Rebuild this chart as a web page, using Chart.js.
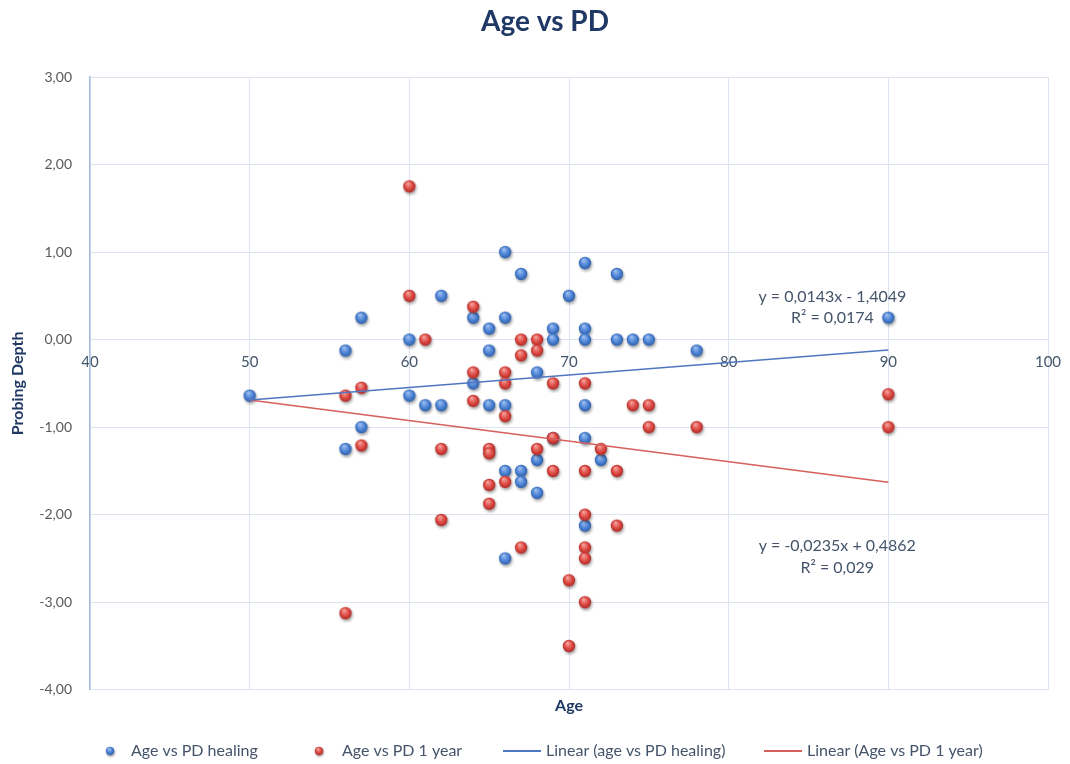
<!DOCTYPE html>
<html>
<head>
<meta charset="utf-8">
<title>Age vs PD</title>
<script src="https://cdn.jsdelivr.net/npm/chart.js@4.4.1/dist/chart.umd.min.js"></script>
<style>
  html, body { margin: 0; padding: 0; background: #ffffff; }
</style>
</head>
<body>
<canvas id="agePdChart" width="1070" height="764"></canvas>
<script>
// Age vs probing depth change, at healing and after 1 year
const healingAge = [50, 56, 56, 57, 57, 60, 60, 61, 62, 62, 64, 64, 65, 65, 65, 66, 66, 66, 66, 66, 67, 67, 67, 68, 68, 68, 69, 69, 69, 70, 71, 71, 71, 71, 71, 71, 72, 73, 73, 74, 75, 78, 90];
const healingPD = [-0.64, -0.125, -1.25, 0.25, -1.0, 0, -0.64, -0.75, 0.5, -0.75, 0.25, -0.5, 0.125, -0.125, -0.75, 1.0, 0.25, -0.75, -1.5, -2.5, 0.75, -1.5, -1.625, -0.375, -1.375, -1.75, 0.125, 0, -1.125, 0.5, 0.875, 0.125, 0, -0.75, -1.125, -2.125, -1.375, 0.75, 0, 0, 0, -0.125, 0.25];

const yearAge = [56, 56, 57, 57, 60, 60, 61, 62, 62, 64, 64, 64, 65, 65, 65, 65, 66, 66, 66, 66, 67, 67, 67, 68, 68, 68, 69, 69, 69, 70, 70, 71, 71, 71, 71, 71, 71, 72, 73, 73, 74, 75, 75, 78, 90, 90];
const yearPD = [-0.64, -3.125, -0.55, -1.21, 1.75, 0.5, 0, -1.25, -2.06, 0.375, -0.375, -0.7, -1.25, -1.3, -1.66, -1.875, -0.375, -0.5, -0.875, -1.625, 0, -0.18, -2.375, 0, -0.125, -1.25, -0.5, -1.125, -1.5, -2.75, -3.5, -0.5, -1.5, -2.0, -2.375, -2.5, -3.0, -1.25, -1.5, -2.125, -0.75, -0.75, -1.0, -1.0, -0.625, -1.0];

// linear trend lines: [slope, intercept], drawn over the age range
const healingFitCoef = [0.0143, -1.4049];
const yearFitCoef = [-0.0235, 0.4862];
const fitRange = [50, 90];
const healingFitText = ['y = 0,0143x - 1,4049', 'R\u00b2 = 0,0174'];
const yearFitText = ['y = -0,0235x + 0,4862', 'R\u00b2 = 0,029'];

const chartTitle = 'Age vs PD';
const seriesLabels = ['Age vs PD healing', 'Age vs PD 1 year', 'Linear (age vs PD healing)', 'Linear (Age vs PD 1 year)'];

const navy = '#1F3864';
const slate = '#44546A';
const gridColor = '#DCE4F2';
const blueLine = '#4F76C0';
const redLine = '#D55F5C';

function toPoints(xs, ys) {
    return xs.map((x, i) => ({ x: x, y: ys[i] }));
}

function fitPoints(coef) {
    return fitRange.map(x => ({ x: x, y: coef[0] * x + coef[1] }));
}

// glossy round marker, drawn once and reused as point style
function makeMarker(light, mid, dark) {
    const c = document.createElement('canvas');
    c.width = 20;
    c.height = 20;
    const g = c.getContext('2d');
    const grad = g.createRadialGradient(8.5, 7, 0.5, 10, 10, 6.5);
    grad.addColorStop(0, light);
    grad.addColorStop(0.55, mid);
    grad.addColorStop(1, dark);
    g.shadowColor = 'rgba(0, 0, 0, 0.35)';
    g.shadowBlur = 3;
    g.shadowOffsetX = 1;
    g.shadowOffsetY = 2;
    g.fillStyle = grad;
    g.beginPath();
    g.arc(10, 10, 6.2, 0, Math.PI * 2);
    g.fill();
    return c;
}

const blueMarker = makeMarker('#9dbdf0', '#4f86d6', '#2d5ca8');
const redMarker = makeMarker('#f4a29c', '#df4b45', '#ab2925');

const fmtComma = v => v.toFixed(2).replace('.', ',');

// title, trend equations and legend row
const decorations = {
    id: 'decorations',
    afterDatasetsDraw(chart) {
        const { ctx, scales } = chart;
        ctx.save();
        ctx.textAlign = 'center';
        ctx.textBaseline = 'middle';

        ctx.fillStyle = navy;
        ctx.font = 'bold 28px Lato';
        ctx.fillText(chartTitle, 545, 22);

        ctx.fillStyle = slate;
        ctx.font = '16px Lato';
        const cx = scales.x.getPixelForValue(86.5);
        const yb = scales.y.getPixelForValue(0.49);
        ctx.fillText(healingFitText[0], cx, yb);
        ctx.fillText(healingFitText[1], cx, yb + 21);
        const cr = scales.x.getPixelForValue(86.8);
        const yr = scales.y.getPixelForValue(-2.36);
        ctx.fillText(yearFitText[0], cr, yr);
        ctx.fillText(yearFitText[1], cr, yr + 22);
        ctx.restore();
    },
    afterDraw(chart) {
        const ctx = chart.ctx;
        const y = 751;
        ctx.save();
        ctx.font = '16px Lato';
        ctx.textBaseline = 'middle';
        ctx.fillStyle = slate;
        const items = [
            { label: seriesLabels[0], marker: blueMarker, x: 104, sym: 12, gap: 15 },
            { label: seriesLabels[1], marker: redMarker, x: 313, sym: 12, gap: 17 },
            { label: seriesLabels[2], line: blueLine, x: 503, sym: 38, gap: 5 },
            { label: seriesLabels[3], line: redLine, x: 764, sym: 38, gap: 5 }
        ];
        items.forEach(it => {
            if (it.marker) {
                ctx.drawImage(it.marker, it.x + it.sym / 2 - 7, y - 7, 14, 14);
            } else {
                ctx.strokeStyle = it.line;
                ctx.lineWidth = 2;
                ctx.beginPath();
                ctx.moveTo(it.x, y);
                ctx.lineTo(it.x + it.sym, y);
                ctx.stroke();
            }
            ctx.fillText(it.label, it.x + it.sym + it.gap, y);
        });
        ctx.restore();
    }
};

const ctx = document.getElementById('agePdChart').getContext('2d');

new Chart(ctx, {
    type: 'scatter',
    data: {
        datasets: [
            {
                label: seriesLabels[0],
                data: toPoints(healingAge, healingPD),
                pointStyle: blueMarker,
                pointRadius: 6,
                backgroundColor: '#4f86d6',
                order: 2
            },
            {
                label: seriesLabels[1],
                data: toPoints(yearAge, yearPD),
                pointStyle: redMarker,
                pointRadius: 6,
                backgroundColor: '#df4b45',
                order: 1
            },
            {
                label: seriesLabels[2],
                data: fitPoints(healingFitCoef),
                showLine: true,
                pointRadius: 0,
                borderColor: blueLine,
                borderWidth: 1.5,
                order: 0
            },
            {
                label: seriesLabels[3],
                data: fitPoints(yearFitCoef),
                showLine: true,
                pointRadius: 0,
                borderColor: redLine,
                borderWidth: 1.5,
                order: 0
            }
        ]
    },
    options: {
        responsive: false,
        animation: false,
        layout: {
            padding: { left: 2, right: 22, top: 77, bottom: 45 }
        },
        scales: {
            x: {
                type: 'linear',
                position: { y: 0 },
                min: 40,
                max: 100,
                ticks: {
                    stepSize: 10,
                    padding: 14,
                    color: slate,
                    font: { family: 'Lato', size: 15 }
                },
                grid: { color: gridColor, drawTicks: false },
                border: { display: false },
                // labels at the ends may overhang; keep the plot edge fixed
                afterFit(scale) {
                    scale.paddingLeft = 0;
                    scale.paddingRight = 0;
                }
            },
            xTitle: {
                type: 'linear',
                position: 'bottom',
                min: 40,
                max: 100,
                ticks: { display: false },
                grid: { display: false, drawTicks: false },
                border: { display: false },
                title: {
                    display: true,
                    text: 'Age',
                    color: navy,
                    font: { family: 'Lato', size: 16, weight: 'bold' },
                    padding: { top: 6, bottom: 4 }
                },
                afterFit(scale) {
                    scale.paddingLeft = 0;
                    scale.paddingRight = 0;
                }
            },
            y: {
                min: -4,
                max: 3,
                ticks: {
                    stepSize: 1,
                    padding: 18,
                    color: '#595959',
                    font: { family: 'Lato', size: 14 },
                    callback: v => fmtComma(v)
                },
                grid: { color: gridColor, drawTicks: false },
                border: { color: '#A8BDE0', width: 1.5 },
                title: {
                    display: true,
                    text: 'Probing Depth',
                    color: navy,
                    font: { family: 'Lato', size: 16, weight: 'bold' },
                    padding: { top: 6, bottom: 0 }
                },
                afterFit(scale) {
                    scale.width = 88;
                }
            }
        },
        plugins: {
            legend: { display: false },
            tooltip: { enabled: false }
        }
    },
    plugins: [decorations]
});
</script>
</body>
</html>
